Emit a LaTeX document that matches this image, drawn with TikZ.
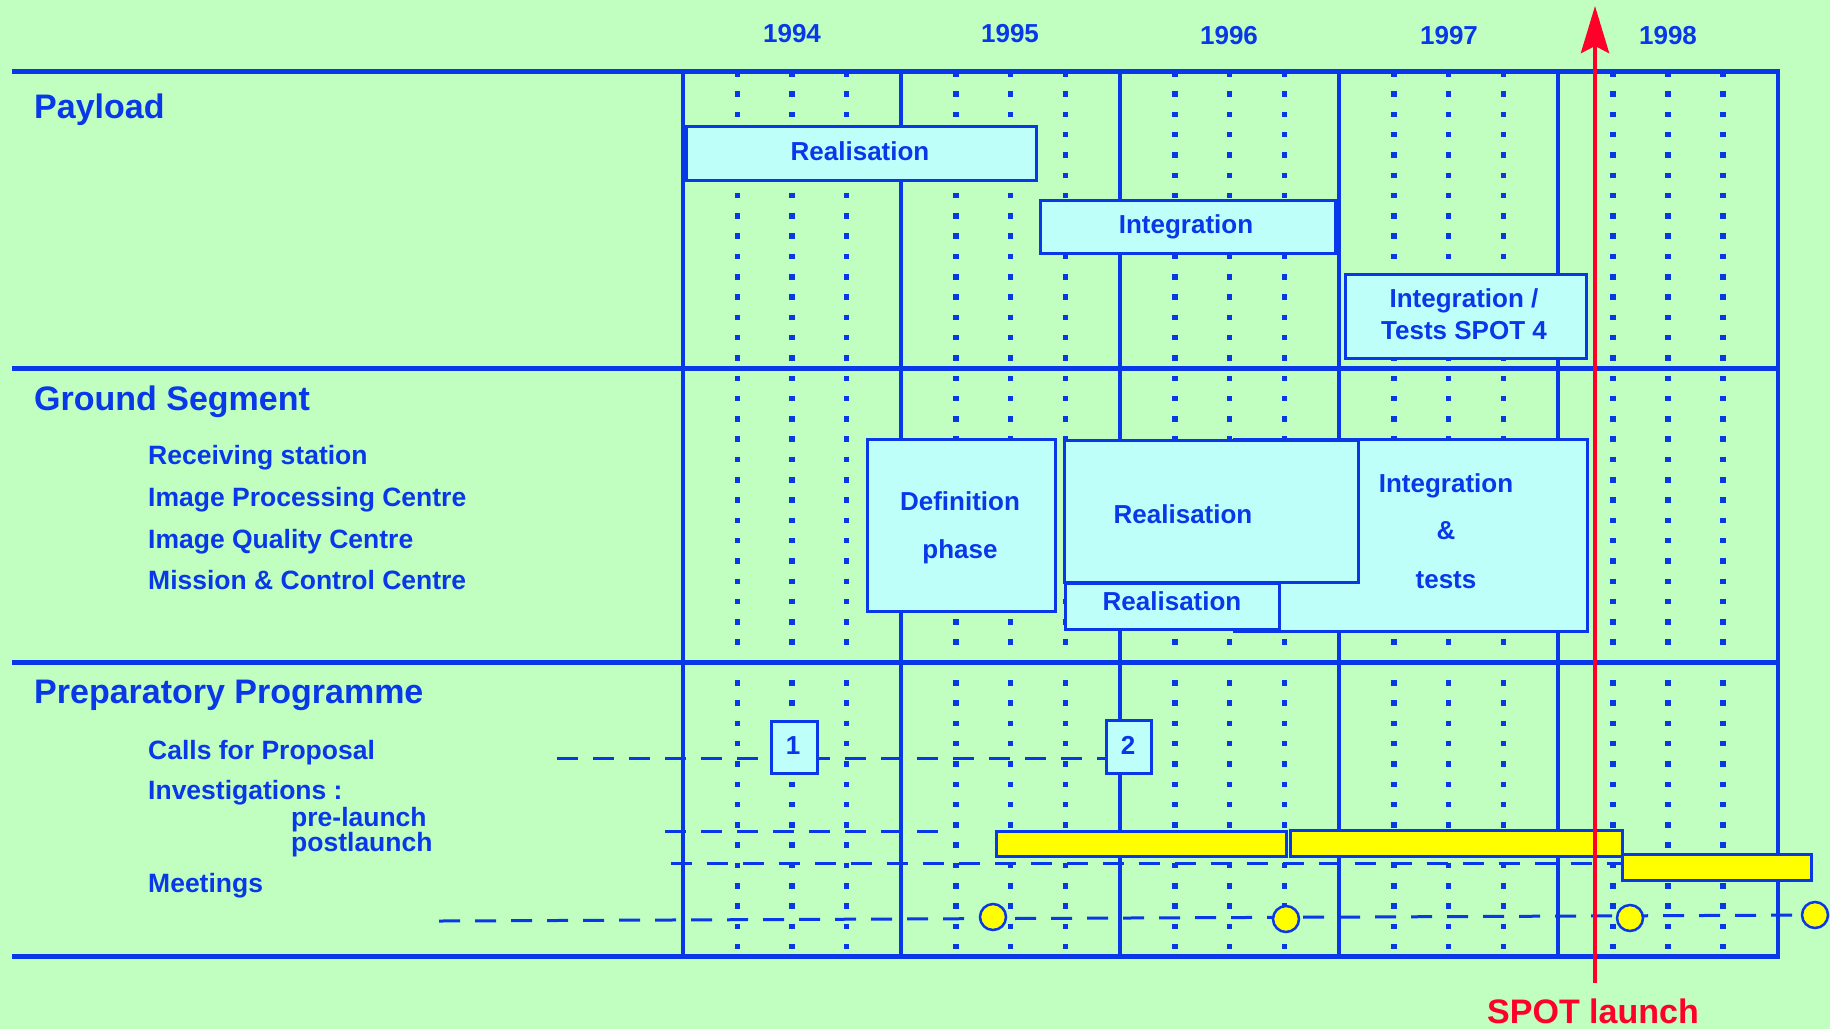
\documentclass[tikz,border=0pt]{standalone}
\usepackage{fontspec}
\setmainfont{Liberation Sans}
\usetikzlibrary{arrows.meta}
\definecolor{bg}{RGB}{192,255,192}
\definecolor{ablue}{RGB}{8,56,232}
\definecolor{boxfill}{RGB}{190,255,250}
\definecolor{ayellow}{RGB}{255,255,0}
\definecolor{ared}{RGB}{255,0,40}
\begin{document}
\begin{tikzpicture}[x=1pt,y=-1pt,
  font=\bfseries\fontsize{26}{30}\selectfont,
  hline/.style={ablue, line width=5pt},
  vline/.style={ablue, line width=3.5pt},
  dotline/.style={ablue, line width=5.5pt, dash pattern=on 5.5pt off 14.8pt},
  dline/.style={ablue, line width=3pt, dash pattern=on 21pt off 15pt},
  gbox/.style={draw=ablue, line width=3pt, fill=boxfill, inner sep=0pt, anchor=north west},
  ybar/.style={draw=ablue, line width=3pt, fill=ayellow, inner sep=0pt, anchor=north west},
  meet/.style={circle, draw=ablue, line width=2.5pt, fill=ayellow, minimum size=26pt, inner sep=0pt},
  btxt/.style={text=ablue, anchor=base, inner sep=0pt},
  lab/.style={text=ablue, anchor=base west, inner sep=0pt, font=\bfseries\fontsize{26.5}{30}\selectfont},
  head/.style={text=ablue, anchor=base west, inner sep=0pt, font=\bfseries\fontsize{34}{40}\selectfont}
]
\fill[bg] (0,0) rectangle (1830,1029);
\useasboundingbox (0,0) rectangle (1830,1029);

% dotted quarter lines
\foreach \xa/\xb in {683/901, 901/1120, 1120/1339, 1339/1558, 1558/1778}{
  \foreach \k in {1,2,3}{
    \draw[dotline] ({\xa+(\xb-\xa)*\k/4},71) -- ({\xa+(\xb-\xa)*\k/4},956);
  }
}
% year lines
\foreach \x in {683,901,1120,1339,1558,1778}
  \draw[vline] (\x,71) -- (\x,956);
% section lines
\foreach \y in {71,368,662,956}
  \draw[hline] (12,\y) -- (1780,\y);

% years
\node[btxt] (y1994) at (792,42) {1994};
\node[btxt] (y1995) at (1010,42) {1995};
\node[btxt] (y1996) at (1229,44) {1996};
\node[btxt] (y1997) at (1449,44) {1997};
\node[btxt] (y1998) at (1668,44) {1998};

% headings and labels
\node[head] (hpay) at (34,118) {Payload};
\node[head] (hgs) at (34,410) {Ground Segment};
\node[head] (hpp) at (34,703) {Preparatory Programme};
\node[lab] (lrs) at (148,464) {Receiving station};
\node[lab] (lipc) at (148,506) {Image Processing Centre};
\node[lab] (liqc) at (148,548) {Image Quality Centre};
\node[lab] (lmcc) at (148,589) {Mission \& Control Centre};
\node[lab] (lcfp) at (148,759) {Calls for Proposal};
\node[lab] (linv) at (148,799) {Investigations :};
\node[lab] (lpre) at (291,826) {pre-launch};
\node[lab] (lpost) at (291,851) {postlaunch};
\node[lab] (lmeet) at (148,892) {Meetings};

% payload boxes
\node[gbox, minimum width=350pt, minimum height=54pt] (pre) at (685,125) {};
\node[gbox, minimum width=295pt, minimum height=53pt] (pint) at (1039,199) {};
\node[gbox, minimum width=241pt, minimum height=84pt] (pit) at (1344,273) {};
\node[btxt] (tpre) at (860,160) {Realisation};
\node[btxt] (tpint) at (1186,233) {Integration};
\node[btxt] (tpit1) at (1464,307) {Integration /};
\node[btxt] (tpit2) at (1464,339) {Tests SPOT 4};

% ground segment boxes
\node[gbox, minimum width=188pt, minimum height=172pt] (gdef) at (866,438) {};
\node[gbox, minimum width=353pt, minimum height=192pt] (gint) at (1233,438) {};
\node[gbox, minimum width=294pt, minimum height=142pt] (gre) at (1063,439) {};
\node[gbox, minimum width=214pt, minimum height=46pt] (gre2) at (1064,582) {};
\node[btxt] (tdef1) at (960,510) {Definition};
\node[btxt] (tdef2) at (960,558) {phase};
\node[btxt] (tgre) at (1183,523) {Realisation};
\node[btxt] (tgre2) at (1172,610) {Realisation};
\node[btxt] (tgint1) at (1446,492) {Integration};
\node[btxt] (tgint2) at (1446,539) {\&};
\node[btxt] (tgint3) at (1446,588) {tests};

% preparatory programme: dashed lines (behind markers)
\coordinate (cstart) at (557,758);
\coordinate (cend) at (1105,758);
\coordinate (pstart) at (665,831);
\coordinate (pend) at (952,831);
\coordinate (qstart) at (671,863);
\coordinate (qend) at (1621,863);
\coordinate (mstart) at (439,921);
\coordinate (mend) at (1815,915);
\draw[dline] (cstart) -- (cend);
\draw[dline] (pstart) -- (pend);
\draw[dline] (qstart) -- (qend);
\draw[dline] (mstart) -- (mend);

% markers
\node[gbox, minimum width=46pt, minimum height=52pt] (b1) at (770,720) {};
\node[gbox, minimum width=45pt, minimum height=53pt] (b2) at (1105,719) {};
\node[btxt] (t1) at (793,754) {1};
\node[btxt] (t2) at (1128,754) {2};
\node[ybar, minimum width=290pt, minimum height=25pt] (yb1) at (995,830) {};
\node[ybar, minimum width=332pt, minimum height=26pt] (yb2) at (1289,829) {};
\node[ybar, minimum width=189pt, minimum height=26pt] (yb3) at (1621,853) {};
\node[meet] (c1) at (993,917) {};
\node[meet] (c2) at (1286,919) {};
\node[meet] (c3) at (1630,918) {};
\node[meet] (c4) at (1815,915) {};

% launch arrow
\coordinate (launch) at (1595,983);
\coordinate (launchtip) at (1595,6);
\draw[ared, line width=4.5pt, -{Stealth[length=47pt,width=28pt,inset=7pt]}] (launch) -- (launchtip);
\node[btxt, text=ared, font=\bfseries\fontsize{34}{40}\selectfont] (spot) at (1593,1023) {SPOT launch};
\end{tikzpicture}
\end{document}
